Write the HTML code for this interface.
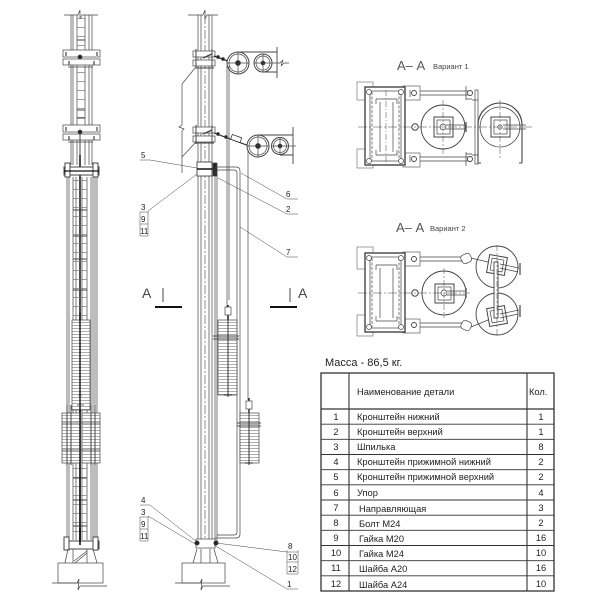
<!DOCTYPE html>
<html><head><meta charset="utf-8"><style>
html,body{margin:0;padding:0;background:#fff;}
svg{display:block}
text{font-family:"Liberation Sans","DejaVu Sans",sans-serif;fill:#222}
</style></head><body>
<svg width="600" height="600" viewBox="0 0 600 600" xmlns="http://www.w3.org/2000/svg">
<defs>
<pattern id="hs" width="6" height="3" patternUnits="userSpaceOnUse"><rect width="6" height="3" fill="#fff"/><line x1="0" y1="1.5" x2="6" y2="1.5" stroke="#777" stroke-width="0.6"/></pattern>
<pattern id="rung" width="6" height="9" patternUnits="userSpaceOnUse"><line x1="0" y1="0.5" x2="6" y2="0.5" stroke="#777" stroke-width="0.7"/></pattern>
</defs>

<!-- ============ LEFT VIEW ============ -->
<g fill="none" stroke="#444" stroke-width="0.7">
  <path d="M64 15 H78 l2 -5 l0 9 l2 -4 H98"/>
  <path d="M71 15V50 M73 15V50 M77 15V50 M85 15V50 M89 15V50 M92 15V50"/>
  <path d="M71 65V125 M73 65V125 M77 65V125 M85 65V125 M89 65V125 M92 65V125"/>
  <path d="M71 140V165 M73 140V165 M77 140V165 M85 140V165 M89 140V165 M92 140V165"/>
  <rect x="77" y="18" width="8" height="32" fill="url(#rung)" stroke="none"/>
  <rect x="77" y="68" width="8" height="56" fill="url(#rung)" stroke="none"/>
  <path d="M77 40H85 M77 110H85 M77 118H85" stroke-width="1"/>
  <rect x="63" y="50" width="37" height="7" fill="#fff"/>
  <rect x="63" y="59" width="37" height="6" fill="#fff"/>
  <rect x="63" y="125" width="37" height="7" fill="#fff"/>
  <rect x="63" y="134" width="37" height="6" fill="#fff"/>
  <path d="M66 52v4 M97 52v4 M66 127v4 M97 127v4 M69 61v4 M94 61v4 M69 136v4 M94 136v4" stroke-width="1.2"/>
  <path d="M68 67H93 M68 142H93"/>
  <circle cx="80" cy="57" r="2" fill="#222"/>
  <circle cx="80" cy="132" r="2" fill="#222"/>
  <path d="M80 132V165" stroke-width="1"/>
  <!-- lower column -->
  <path d="M67 177V540 M69 177V540 M73 177V540 M76 177V540 M87 177V540 M91 177V540 M93 177V540 M95 177V540 M97 177V540"/>
  <path d="M80 155V540" stroke="#111" stroke-width="1.5"/>
  <path d="M82 177V540"/>
  <rect x="73" y="180" width="14" height="140" fill="url(#rung)" stroke="none"/>
  <rect x="73" y="466" width="14" height="72" fill="url(#rung)" stroke="none"/>
  <path d="M73 210H87 M73 236H87 M73 259H87 M73 290H87 M73 478H87 M73 500H87 M73 526H87" stroke-width="1.1"/>
  <rect x="64" y="167" width="35" height="8" fill="#fff" stroke-width="1"/>
  <rect x="65" y="163" width="5" height="14" fill="#fff" stroke-width="1"/>
  <rect x="93" y="163" width="5" height="14" fill="#fff" stroke-width="1"/>
  <path d="M64 171H99" stroke="#111" stroke-width="1.2"/>
  <!-- stacks -->
  <rect x="72" y="320" width="18" height="90" fill="url(#hs)"/>
  <path d="M80 312V412" stroke="#111" stroke-width="1.4"/>
  <path d="M77 405H84 M78 395h4"/>
  <rect x="62" y="413" width="18" height="50" fill="url(#hs)"/>
  <rect x="82" y="413" width="18" height="50" fill="url(#hs)"/>
  <path d="M67 405V465 M71 405V465 M91 405V465 M95 405V465" stroke-width="1"/>
  <path d="M80 410V540" stroke="#111" stroke-width="1.4"/>
  <path d="M62 423H100 M62 450H100"/>
  <!-- base -->
  <rect x="64" y="541" width="35" height="8" fill="#fff" stroke-width="1"/>
  <rect x="64" y="537" width="5" height="13" fill="#fff" stroke-width="1"/>
  <rect x="93" y="537" width="5" height="13" fill="#fff" stroke-width="1"/>
  <path d="M80 528V545" stroke="#111" stroke-width="1.6"/>
  <path d="M68 549 L65 563 M73 549 V563 M87 549 V563 M93 549 L97 563 M74 561 L87 551 M75 563 L87 553"/>
  <rect x="58" y="563" width="45" height="20" fill="#fff"/>
  <path d="M52 583 H77 l2 -4 l-1 11 l2 -4 H107"/>
</g>

<!-- ============ MIDDLE VIEW ============ -->
<g fill="none" stroke="#444" stroke-width="0.7">
  <path d="M188 15 H203 l2 -5 l0 9 l2 -4 H218"/>
  <path d="M198 15V541 M201 15V541 M209 15V541 M212 15V541"/>
  <path d="M205 15V541" stroke-dasharray="9 2 2 2" stroke-width="0.6"/>
  <!-- upper flange -->
  <rect x="193" y="51" width="22" height="6" fill="#fff"/>
  <rect x="193" y="60" width="22" height="6" fill="#fff"/>
  <path d="M196 49v19 M212 49v19 M195 68h19" stroke-width="1"/>
  <path d="M203 58 L212 54" stroke-width="1.4"/>
  <!-- lower flange -->
  <rect x="193" y="127" width="22" height="6" fill="#fff"/>
  <rect x="193" y="136" width="22" height="6" fill="#fff"/>
  <path d="M196 125v19 M212 125v19 M195 143h19" stroke-width="1"/>
  <path d="M203 134 L212 130" stroke-width="1.4"/>
  <!-- left support -->
  <path d="M195 68 L182 84 V125 l-3 2 l5 2 l-2 2 V173 M195 143 L182 157"/>
  <!-- chains -->
  <path d="M214 56 L233 63" stroke="#222" stroke-width="1.2"/>
  <circle cx="218" cy="57" r="1.5" fill="#222"/><circle cx="223" cy="59" r="1.5" fill="#222"/><circle cx="228" cy="61" r="1.3" fill="#222"/>
  <path d="M214 133 L252 147" stroke="#222" stroke-width="1.1"/>
  <circle cx="218" cy="134" r="1.5" fill="#222"/><circle cx="226" cy="137" r="1.5" fill="#222"/>
  <rect x="231" y="136" width="10" height="5" transform="rotate(20 236 139)" fill="#fff" stroke="#222"/>
  <!-- upper pulleys -->
  <circle cx="238" cy="63" r="11" fill="#fff" stroke-width="1"/>
  <circle cx="238" cy="63" r="9"/>
  <circle cx="238" cy="63" r="2.5" fill="#222"/>
  <path d="M238 52V74 M227 63H249"/>
  <circle cx="263" cy="63" r="9" fill="#fff" stroke-width="1"/>
  <circle cx="263" cy="63" r="7"/>
  <circle cx="263" cy="63" r="2" fill="#222"/>
  <path d="M263 54V72 M254 63H272"/>
  <path d="M238 52 H277 M263 72 H277 M277 47 V78" stroke-width="0.9"/>
  <path d="M272 63 H280 l3 -3 l-2 6 l3 -3 H289"/>
  <!-- lower pulleys -->
  <circle cx="258" cy="146" r="11" fill="#fff" stroke-width="1"/>
  <circle cx="258" cy="146" r="9"/>
  <circle cx="258" cy="146" r="2.5" fill="#222"/>
  <path d="M258 135V157 M247 146H269"/>
  <circle cx="280" cy="146" r="8.5" fill="#fff" stroke-width="1"/>
  <circle cx="280" cy="146" r="6.5"/>
  <circle cx="280" cy="146" r="2" fill="#222"/>
  <path d="M280 137V155 M271 146H289"/>
  <path d="M258 135 H293 M280 155 H293 M293 127 V164" stroke-width="0.9"/>
  <path d="M289 146 H296"/>
  <!-- ropes -->
  <path d="M227 66V312 M229 66V300"/>
  <path d="M248 150V400"/>
  <!-- sleeve bracket & guide rail -->
  <rect x="197" y="162" width="15" height="14" fill="#fff" stroke-width="0.9"/>
  <path d="M197 169H214" stroke="#111" stroke-width="1.4"/>
  <rect x="213" y="163" width="4" height="13" fill="#222"/>
  <path d="M215 167 H236 Q240 167 240 171 V534 Q240 538 236 538 H215"/>
  <path d="M217 170 H234 Q237 170 237 173 V532 Q237 535 234 535 H217"/>
  <path d="M215 167 V541 M217 170 V541"/>
  <!-- upper stack -->
  <path d="M228 305V320" stroke="#111" stroke-width="1.4"/>
  <rect x="225" y="307" width="6" height="8" fill="#fff"/>
  <rect x="218" y="320" width="19" height="75" fill="url(#hs)"/>
  <path d="M213 336H239 M213 339H239" stroke-width="0.9"/>
  <path d="M228 320V397 M224 395H232" stroke="#222" stroke-width="0.9"/>
  <!-- lower stack -->
  <path d="M249 398V413" stroke="#111" stroke-width="1.3"/>
  <rect x="246" y="401" width="6" height="8" fill="#fff"/>
  <rect x="240" y="413" width="19" height="50" fill="url(#hs)"/>
  <path d="M237 423H261 M237 426H261" stroke-width="0.9"/>
  <path d="M249 413V465 M245 463H253" stroke="#222" stroke-width="0.9"/>
  <!-- base -->
  <rect x="196" y="539" width="19" height="9" fill="#fff"/>
  <circle cx="197" cy="543" r="2.2" fill="#222"/>
  <circle cx="216" cy="543" r="2.2" fill="#222"/>
  <path d="M197 549 L193 563 M201 549 V563 M210 549 V563 M214 549 L218 563"/>
  <rect x="182" y="563" width="43" height="20" fill="#fff"/>
  <path d="M175 583 H200 l2 -4 l-1 11 l2 -4 H230"/>
  <!-- leaders -->
  <path d="M140 160 H150 L197 168" stroke-width="0.5"/>
  <path d="M148 211 L197 174" stroke-width="0.5"/>
  <path d="M241 173 L287 199 H298" stroke-width="0.5"/>
  <path d="M218 178 L287 214 H298" stroke-width="0.5"/>
  <path d="M240 227 L287 257 H298" stroke-width="0.5"/>
  <path d="M140 505 H150 L197 542" stroke-width="0.5"/>
  <path d="M148 516 L197 545" stroke-width="0.5"/>
  <path d="M216 543 L287 552 H298" stroke-width="0.5"/>
  <path d="M214 545 L287 589 H298" stroke-width="0.5"/>
  <path d="M140 212H149 M148 212V236 M140 224H148 M140 236H148 M140 212V236" stroke-width="0.5"/>
  <path d="M140 517H149 M148 517V541 M140 529H148 M140 541H148 M140 517V541" stroke-width="0.5"/>
  <path d="M287 550V574 M287 562H298 M287 574H298 M298 550V574" stroke-width="0.5"/>
  <!-- section marks -->
  <path d="M163 288V302 M290 288V302" stroke-width="1"/>
  <path d="M155 307H182 M270 307H297" stroke="#111" stroke-width="2"/>
</g>
<g font-size="8">
  <text x="141" y="158">5</text>
  <text x="141" y="210">3</text>
  <text x="141" y="222">9</text>
  <text x="140" y="234">11</text>
  <text x="286" y="197">6</text>
  <text x="286" y="212">2</text>
  <text x="286" y="255">7</text>
  <text x="141" y="503">4</text>
  <text x="141" y="515">3</text>
  <text x="141" y="527">9</text>
  <text x="140" y="539">11</text>
  <text x="288" y="549">8</text>
  <text x="288" y="560">10</text>
  <text x="288" y="572">12</text>
  <text x="287" y="587">1</text>
</g>
<g font-size="14" fill="#444">
  <text x="142" y="298" style="fill:#444">A</text>
  <text x="298" y="298" style="fill:#444">A</text>
</g>

<!-- ============ SECTION A-A VARIANT 1 ============ -->
<text x="397" y="70" font-size="13" style="fill:#555">А– А</text>
<text x="433" y="69" font-size="7.5" style="fill:#444">Вариант 1</text>
<g fill="none" stroke="#444" stroke-width="0.7">
  <rect x="357" y="82" width="16" height="18" stroke-width="0.5"/>
  <rect x="357" y="149" width="16" height="19" stroke-width="0.5"/>
  <rect x="403" y="86" width="17" height="14" stroke-width="0.6"/>
  <rect x="403" y="153" width="17" height="14" stroke-width="0.6"/>
  <rect x="365" y="87" width="40" height="78" stroke-width="1.4" fill="#fff"/>
  <rect x="370" y="91" width="31" height="70"/>
  <path d="M372 92V160 M399 92V160" stroke-dasharray="3 1.5"/>
  <path d="M376 99H397 M376 155H397 M380 102V152 M393 102V152 M376 99V104 M397 99V104 M376 150V155 M397 150V155"/>
  <path d="M386 90V164" stroke-dasharray="6 2 1 2" stroke-width="0.5"/>
  <circle cx="369" cy="92" r="2.5" fill="#fff"/><circle cx="369" cy="161" r="2.5" fill="#fff"/>
  <circle cx="401" cy="92" r="2.5" fill="#fff"/><circle cx="401" cy="161" r="2.5" fill="#fff"/>
  <path d="M420 91H472 M420 95H472 M420 157H472 M420 161H472"/>
  <circle cx="414" cy="93" r="2.5" fill="#fff" stroke-width="0.9"/>
  <circle cx="414" cy="159" r="2.5" fill="#fff" stroke-width="0.9"/>
  <circle cx="470" cy="93" r="2.5" fill="#fff" stroke-width="0.9"/>
  <circle cx="470" cy="159" r="2.5" fill="#fff" stroke-width="0.9"/>
  <circle cx="415" cy="127" r="3.2" fill="#fff" stroke-width="1"/>
  <path d="M410 90V97 M410 155V162 M466 86V100 M466 152V166 M466 99H472 M466 154H472"/>
  <circle cx="443" cy="127" r="22" fill="#fff" stroke-width="0.9"/>
  <rect x="434" y="117" width="19" height="20" stroke-width="1"/>
  <rect x="437" y="120" width="13" height="14"/>
  <circle cx="443" cy="127" r="3"/>
  <path d="M446 125H466 M446 129H466"/>
  <path d="M466 122V132" stroke-width="1.2"/>
  <rect x="475" y="90" width="3" height="74" fill="#fff"/>
  <path d="M478 163 V125 A22 22 0 0 1 522 125 V163 M478 163H481 M519 163H522" stroke-width="1.1"/>
  <circle cx="500" cy="127" r="20" fill="#fff" stroke-width="0.8"/>
  <rect x="491" y="117" width="19" height="20" stroke-width="1"/>
  <rect x="494" y="120" width="13" height="14"/>
  <circle cx="500" cy="127" r="2.2"/>
  <path d="M503 125H526 M503 129H526"/>
  <path d="M472 100H478 M472 155H478"/>
  <path d="M358 127H532" stroke-dasharray="9 2 2 2" stroke-width="0.6"/>
  <path d="M443 100V155 M500 100V160" stroke-dasharray="6 2 2 2" stroke-width="0.5"/>
</g>

<!-- ============ SECTION A-A VARIANT 2 ============ -->
<text x="396" y="232" font-size="13" style="fill:#555">А– А</text>
<text x="430" y="231" font-size="7.5" style="fill:#444">Вариант 2</text>
<g fill="none" stroke="#444" stroke-width="0.7">
  <rect x="357" y="247" width="16" height="22" stroke-width="0.5"/>
  <rect x="357" y="315" width="16" height="21" stroke-width="0.5"/>
  <rect x="403" y="252" width="17" height="14" stroke-width="0.6"/>
  <rect x="403" y="319" width="17" height="14" stroke-width="0.6"/>
  <rect x="365" y="253" width="40" height="79" stroke-width="1.4" fill="#fff"/>
  <rect x="370" y="257" width="31" height="71"/>
  <path d="M372 258V327 M399 258V327" stroke-dasharray="3 1.5"/>
  <path d="M376 265H397 M376 321H397 M380 268V318 M393 268V318 M376 265V270 M397 265V270 M376 316V321 M397 316V321"/>
  <circle cx="369" cy="258" r="2.5" fill="#fff"/><circle cx="369" cy="327" r="2.5" fill="#fff"/>
  <circle cx="401" cy="258" r="2.5" fill="#fff"/><circle cx="401" cy="327" r="2.5" fill="#fff"/>
  <path d="M420 257H466 M420 261H466 M420 323H466 M420 327H466"/>
  <circle cx="414" cy="259" r="2.5" fill="#fff" stroke-width="0.9"/>
  <circle cx="414" cy="325" r="2.5" fill="#fff" stroke-width="0.9"/>
  <rect x="461" y="254" width="10" height="9" rx="3" fill="#fff" transform="rotate(-25 466 258)"/>
  <rect x="461" y="321" width="10" height="9" rx="3" fill="#fff" transform="rotate(25 466 326)"/>
  <circle cx="415" cy="293" r="3.2" fill="#fff" stroke-width="1"/>
  <circle cx="444" cy="293" r="22" fill="#fff" stroke-width="0.9"/>
  <rect x="435" y="284" width="19" height="19" stroke-width="1"/>
  <rect x="438" y="287" width="13" height="13"/>
  <circle cx="444" cy="293" r="3"/>
  <path d="M447 291H466 M447 295H466"/>
  <path d="M466 288V298" stroke-width="1.2"/>
  <circle cx="497" cy="267" r="21" fill="#fff" stroke-width="0.9"/>
  <circle cx="497" cy="314" r="21" fill="#fff" stroke-width="0.9"/>
  <rect x="488" y="256" width="18" height="18" transform="rotate(10 497 265)" stroke-width="1"/>
  <rect x="491" y="259" width="12" height="12" transform="rotate(10 497 265)"/>
  <rect x="488" y="307" width="18" height="18" transform="rotate(-10 497 316)" stroke-width="1"/>
  <rect x="491" y="310" width="12" height="12" transform="rotate(-10 497 316)"/>
  <rect x="494" y="262" width="4" height="56" fill="#fff" stroke-width="0.9"/>
  <path d="M500 264L519 268 M500 268L518 272 M500 314L519 310 M500 318L518 314"/>
  <path d="M520 263V275 M520 305V317" stroke-width="1.2"/>
  <path d="M471 258L488 262 M471 327L488 320"/>
  <path d="M358 293H470" stroke-dasharray="9 2 2 2" stroke-width="0.6"/>
  <path d="M444 268V318 M497 245V336" stroke-dasharray="6 2 2 2" stroke-width="0.5"/>
</g>

<!-- ============ TABLE ============ -->
<text x="325" y="366" font-size="11">Масса - 86,5 кг.</text>
<g stroke="#333" fill="none">
  <rect x="321" y="373" width="233" height="218" stroke-width="1.3"/>
  <path d="M349 373V591 M527 373V591" stroke-width="1.1"/>
  <path d="M321 409H554" stroke-width="1.2"/>
  <path d="M321 424.2H554 M321 439.3H554 M321 454.5H554 M321 469.7H554 M321 484.8H554 M321 500H554 M321 515.2H554 M321 530.3H554 M321 545.5H554 M321 560.7H554 M321 575.8H554" stroke-width="0.9"/>
</g>
<g font-size="9.3">
  <text x="357" y="395">Наименование детали</text>
  <text x="529" y="395">Кол.</text>
  <g text-anchor="middle">
    <text x="336" y="420">1</text><text x="336" y="435">2</text><text x="336" y="450">3</text>
    <text x="336" y="465">4</text><text x="336" y="480">5</text><text x="336" y="496">6</text>
    <text x="336" y="511">7</text><text x="336" y="526">8</text><text x="336" y="541">9</text>
    <text x="336" y="556">10</text><text x="336" y="571">11</text><text x="336" y="587">12</text>
    <text x="541" y="420">1</text><text x="541" y="435">1</text><text x="541" y="450">8</text>
    <text x="541" y="465">2</text><text x="541" y="480">2</text><text x="541" y="496">4</text>
    <text x="541" y="511">3</text><text x="541" y="526">2</text><text x="541" y="541">16</text>
    <text x="541" y="556">10</text><text x="541" y="571">16</text><text x="541" y="587">10</text>
  </g>
  <text x="357" y="420">Кронштейн нижний</text>
  <text x="357" y="435">Кронштейн верхний</text>
  <text x="357" y="450">Шпилька</text>
  <text x="357" y="465">Кронштейн прижимной нижний</text>
  <text x="357" y="480">Кронштейн прижимной верхний</text>
  <text x="357" y="496">Упор</text>
  <text x="359" y="512">Направляющая</text>
  <text x="359" y="527">Болт М24</text>
  <text x="359" y="542">Гайка М20</text>
  <text x="359" y="557">Гайка М24</text>
  <text x="359" y="572">Шайба А20</text>
  <text x="359" y="588">Шайба А24</text>
</g>
</svg>
</body></html>
